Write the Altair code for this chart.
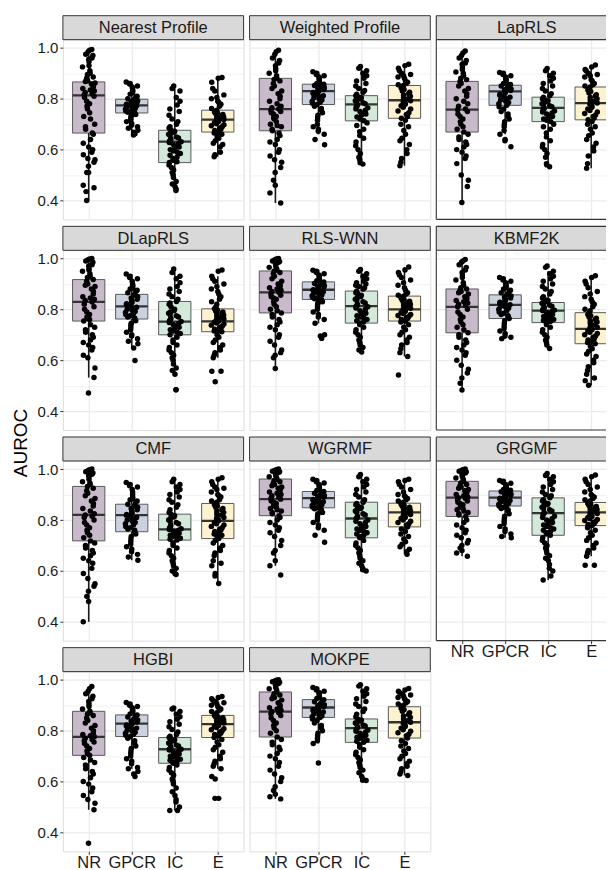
import altair as alt
import pandas as pd

METHODS = ["Nearest Profile", "Weighted Profile", "LapRLS", "DLapRLS", "RLS-WNN",
           "KBMF2K", "CMF", "WGRMF", "GRGMF", "HGBI", "MOKPE"]
CATS = ["NR", "GPCR", "IC", "E"]
FILLS = ["#c8b9cb", "#cbd2df", "#d3e9da", "#fdf3d0"]

# box statistics per method, ordered NR, GPCR, IC, E
Q1 = [[0.665, 0.744, 0.549, 0.669], [0.674, 0.777, 0.713, 0.723], [0.669, 0.774, 0.710, 0.717],
      [0.754, 0.762, 0.700, 0.712], [0.786, 0.839, 0.746, 0.754], [0.708, 0.764, 0.748, 0.665],
      [0.718, 0.754, 0.721, 0.727], [0.817, 0.848, 0.730, 0.773], [0.814, 0.855, 0.740, 0.778],
      [0.703, 0.777, 0.672, 0.773], [0.775, 0.852, 0.754, 0.771]]
MED = [[0.813, 0.774, 0.631, 0.718], [0.759, 0.830, 0.778, 0.794], [0.757, 0.829, 0.764, 0.783],
       [0.829, 0.812, 0.752, 0.753], [0.867, 0.877, 0.813, 0.800], [0.810, 0.818, 0.795, 0.723],
       [0.820, 0.819, 0.763, 0.797], [0.882, 0.886, 0.806, 0.830], [0.888, 0.888, 0.827, 0.830],
       [0.776, 0.828, 0.727, 0.826], [0.875, 0.891, 0.810, 0.833]]
Q3 = [[0.866, 0.798, 0.676, 0.755], [0.880, 0.857, 0.812, 0.852], [0.868, 0.853, 0.806, 0.846],
      [0.917, 0.859, 0.831, 0.802], [0.951, 0.908, 0.872, 0.852], [0.880, 0.857, 0.827, 0.787],
      [0.932, 0.862, 0.823, 0.865], [0.961, 0.912, 0.870, 0.866], [0.952, 0.914, 0.887, 0.869],
      [0.876, 0.862, 0.773, 0.860], [0.952, 0.922, 0.846, 0.894]]
WLO = [[0.400, 0.657, 0.439, 0.572], [0.390, 0.660, 0.545, 0.537], [0.392, 0.660, 0.540, 0.527],
       [0.532, 0.648, 0.545, 0.610], [0.568, 0.745, 0.632, 0.615], [0.483, 0.685, 0.646, 0.502],
       [0.400, 0.642, 0.586, 0.551], [0.620, 0.760, 0.600, 0.665], [0.658, 0.730, 0.564, 0.658],
       [0.489, 0.650, 0.486, 0.650], [0.532, 0.750, 0.610, 0.624]]
WHI = [[0.993, 0.866, 0.850, 0.883], [0.990, 0.906, 0.927, 0.935], [0.987, 0.903, 0.919, 0.932],
       [1.000, 0.939, 0.959, 0.930], [1.000, 0.954, 0.957, 0.966], [0.996, 0.925, 0.950, 0.932],
       [1.000, 0.947, 0.960, 0.966], [1.000, 0.960, 0.979, 0.960], [1.000, 0.955, 0.983, 0.977],
       [0.974, 0.911, 0.889, 0.934], [1.000, 0.970, 0.980, 0.966]]

# individual AUROC values (jittered points)
NP_NR = [0.993,0.99,0.985,0.975,0.97,0.96,0.955,0.945,0.93,0.925,0.91,0.90,0.895,0.885,0.88,0.87,0.868,0.862,0.858,0.85,0.846,0.84,0.834,0.83,0.824,0.82,0.816,0.81,0.805,0.79,0.78,0.77,0.76,0.745,0.73,0.72,0.70,0.69,0.68,0.665,0.66,0.64,0.625,0.61,0.60,0.59,0.58,0.565,0.56,0.55,0.535,0.51,0.51,0.46,0.45,0.435,0.40]
NP_GPCR = [0.866,0.86,0.858,0.85,0.846,0.84,0.832,0.83,0.822,0.818,0.81,0.806,0.80,0.798,0.795,0.792,0.79,0.787,0.785,0.782,0.78,0.778,0.776,0.774,0.772,0.77,0.768,0.765,0.762,0.76,0.756,0.753,0.75,0.747,0.745,0.742,0.738,0.733,0.728,0.72,0.716,0.71,0.703,0.696,0.69,0.684,0.676,0.668,0.662,0.657]
NP_IC = [0.85,0.84,0.83,0.805,0.79,0.775,0.76,0.75,0.735,0.72,0.71,0.70,0.69,0.685,0.676,0.672,0.668,0.664,0.66,0.655,0.65,0.646,0.642,0.638,0.634,0.631,0.628,0.624,0.62,0.615,0.61,0.605,0.60,0.595,0.59,0.585,0.578,0.57,0.565,0.558,0.552,0.549,0.54,0.53,0.52,0.51,0.50,0.49,0.475,0.465,0.455,0.445,0.439]
NP_E = [0.883,0.88,0.865,0.84,0.83,0.815,0.805,0.80,0.79,0.785,0.778,0.77,0.762,0.755,0.752,0.748,0.745,0.742,0.738,0.735,0.732,0.728,0.725,0.722,0.72,0.718,0.715,0.712,0.71,0.706,0.702,0.698,0.694,0.69,0.685,0.68,0.675,0.669,0.665,0.66,0.652,0.645,0.635,0.625,0.62,0.61,0.59,0.58,0.572]

WP_NR = [0.99,0.985,0.975,0.96,0.95,0.94,0.93,0.92,0.91,0.90,0.89,0.88,0.876,0.87,0.86,0.85,0.84,0.83,0.82,0.81,0.80,0.79,0.78,0.77,0.765,0.76,0.755,0.75,0.745,0.74,0.73,0.725,0.72,0.71,0.70,0.695,0.69,0.68,0.674,0.665,0.655,0.64,0.63,0.62,0.60,0.59,0.575,0.56,0.55,0.53,0.51,0.48,0.46,0.43,0.39]
WP_GPCR = [0.906,0.90,0.895,0.89,0.885,0.88,0.875,0.87,0.865,0.86,0.857,0.855,0.852,0.85,0.846,0.843,0.84,0.836,0.833,0.83,0.827,0.824,0.82,0.816,0.812,0.808,0.804,0.80,0.795,0.79,0.786,0.782,0.777,0.77,0.762,0.755,0.745,0.735,0.725,0.715,0.70,0.69,0.68,0.672,0.66,0.64,0.619]
WP_IC = [0.927,0.92,0.91,0.90,0.89,0.88,0.87,0.86,0.85,0.84,0.832,0.825,0.818,0.812,0.808,0.804,0.80,0.796,0.792,0.788,0.784,0.78,0.776,0.772,0.768,0.764,0.76,0.755,0.75,0.745,0.74,0.735,0.728,0.72,0.713,0.705,0.695,0.68,0.67,0.655,0.645,0.63,0.615,0.60,0.585,0.57,0.56,0.548,0.543]
WP_E = [0.935,0.93,0.92,0.91,0.90,0.895,0.89,0.885,0.88,0.87,0.865,0.86,0.855,0.852,0.848,0.842,0.836,0.83,0.825,0.82,0.815,0.81,0.805,0.80,0.796,0.792,0.788,0.784,0.778,0.772,0.766,0.76,0.752,0.745,0.738,0.73,0.723,0.715,0.70,0.69,0.675,0.66,0.645,0.635,0.62,0.60,0.585,0.565,0.55,0.537]

LR_NR = [0.987,0.98,0.97,0.96,0.95,0.94,0.935,0.925,0.915,0.905,0.90,0.89,0.88,0.875,0.868,0.86,0.85,0.84,0.83,0.82,0.81,0.80,0.79,0.78,0.77,0.76,0.757,0.75,0.74,0.73,0.72,0.71,0.70,0.69,0.68,0.669,0.66,0.65,0.64,0.63,0.62,0.61,0.60,0.59,0.575,0.565,0.545,0.50,0.48,0.455,0.392]
LR_GPCR = [0.903,0.90,0.895,0.89,0.885,0.88,0.875,0.87,0.865,0.86,0.856,0.853,0.85,0.846,0.842,0.838,0.835,0.832,0.829,0.826,0.822,0.818,0.814,0.81,0.806,0.80,0.795,0.79,0.785,0.78,0.774,0.768,0.76,0.75,0.74,0.73,0.72,0.71,0.70,0.69,0.675,0.66,0.64,0.635,0.611]
LR_IC = [0.919,0.91,0.90,0.89,0.88,0.87,0.86,0.85,0.84,0.83,0.82,0.812,0.806,0.80,0.796,0.792,0.788,0.784,0.78,0.776,0.772,0.768,0.764,0.76,0.756,0.752,0.748,0.744,0.74,0.735,0.73,0.725,0.72,0.715,0.71,0.70,0.69,0.68,0.665,0.65,0.635,0.62,0.61,0.60,0.585,0.57,0.545,0.54,0.533]
LR_E = [0.932,0.925,0.915,0.91,0.90,0.895,0.89,0.885,0.875,0.87,0.86,0.855,0.85,0.846,0.84,0.834,0.828,0.822,0.816,0.81,0.805,0.80,0.795,0.79,0.786,0.783,0.778,0.772,0.766,0.76,0.754,0.748,0.742,0.736,0.73,0.724,0.717,0.71,0.70,0.69,0.68,0.665,0.655,0.64,0.625,0.61,0.595,0.575,0.545,0.527]

DL_NR = [1.0,0.998,0.995,0.99,0.985,0.975,0.97,0.96,0.955,0.95,0.94,0.93,0.925,0.917,0.91,0.90,0.895,0.89,0.88,0.87,0.86,0.85,0.845,0.84,0.835,0.829,0.82,0.81,0.80,0.79,0.78,0.77,0.765,0.76,0.754,0.74,0.73,0.72,0.71,0.70,0.69,0.68,0.67,0.66,0.65,0.64,0.62,0.61,0.57,0.532,0.471]
DL_GPCR = [0.939,0.93,0.925,0.92,0.91,0.90,0.895,0.89,0.885,0.88,0.875,0.87,0.865,0.859,0.855,0.85,0.845,0.84,0.835,0.83,0.826,0.822,0.818,0.812,0.808,0.804,0.80,0.796,0.792,0.788,0.784,0.78,0.775,0.77,0.766,0.762,0.755,0.745,0.74,0.73,0.72,0.71,0.70,0.695,0.685,0.675,0.665,0.648,0.599]
DL_IC = [0.959,0.945,0.93,0.92,0.905,0.89,0.88,0.87,0.86,0.85,0.84,0.831,0.825,0.82,0.81,0.80,0.795,0.79,0.785,0.78,0.775,0.77,0.765,0.76,0.755,0.752,0.748,0.744,0.74,0.735,0.73,0.725,0.72,0.715,0.71,0.705,0.70,0.69,0.68,0.67,0.66,0.65,0.64,0.63,0.62,0.61,0.60,0.585,0.57,0.56,0.545,0.484,0.484]
DL_E = [0.955,0.95,0.93,0.92,0.91,0.90,0.89,0.88,0.87,0.86,0.85,0.84,0.83,0.82,0.81,0.802,0.798,0.794,0.79,0.786,0.782,0.778,0.774,0.77,0.766,0.762,0.758,0.755,0.753,0.75,0.746,0.742,0.738,0.734,0.73,0.726,0.722,0.718,0.715,0.712,0.70,0.69,0.68,0.67,0.66,0.65,0.64,0.63,0.62,0.61,0.557,0.557,0.516]

RW_NR = [1.0,0.998,0.995,0.99,0.988,0.985,0.98,0.975,0.97,0.965,0.96,0.955,0.951,0.945,0.94,0.93,0.92,0.91,0.90,0.895,0.89,0.885,0.88,0.875,0.87,0.867,0.86,0.855,0.85,0.845,0.84,0.83,0.82,0.81,0.80,0.795,0.786,0.78,0.77,0.76,0.75,0.74,0.73,0.72,0.70,0.69,0.675,0.66,0.64,0.63,0.62,0.61,0.568]
RW_GPCR = [0.954,0.95,0.945,0.94,0.935,0.93,0.925,0.92,0.915,0.912,0.908,0.905,0.902,0.90,0.897,0.894,0.891,0.888,0.885,0.882,0.879,0.877,0.875,0.872,0.869,0.866,0.863,0.86,0.857,0.854,0.851,0.848,0.845,0.842,0.839,0.835,0.83,0.825,0.82,0.81,0.80,0.79,0.78,0.77,0.76,0.745,0.70,0.695,0.686]
RW_IC = [0.957,0.95,0.94,0.93,0.92,0.91,0.905,0.90,0.895,0.89,0.885,0.88,0.872,0.865,0.86,0.855,0.85,0.845,0.84,0.835,0.83,0.825,0.82,0.815,0.813,0.81,0.805,0.80,0.795,0.79,0.785,0.78,0.775,0.77,0.765,0.76,0.755,0.75,0.746,0.74,0.73,0.72,0.71,0.70,0.69,0.68,0.67,0.66,0.65,0.64,0.632]
RW_E = [0.966,0.955,0.945,0.935,0.925,0.915,0.905,0.895,0.885,0.875,0.865,0.86,0.855,0.852,0.848,0.844,0.84,0.836,0.832,0.828,0.824,0.82,0.816,0.812,0.808,0.804,0.80,0.796,0.792,0.788,0.784,0.78,0.776,0.772,0.768,0.764,0.76,0.754,0.75,0.74,0.73,0.72,0.71,0.70,0.69,0.68,0.67,0.66,0.645,0.63,0.615,0.542]

KB_NR = [0.996,0.99,0.985,0.975,0.965,0.955,0.945,0.935,0.925,0.915,0.905,0.895,0.885,0.88,0.875,0.87,0.865,0.86,0.85,0.845,0.84,0.835,0.83,0.825,0.82,0.815,0.81,0.80,0.79,0.78,0.77,0.76,0.75,0.74,0.73,0.72,0.708,0.70,0.69,0.68,0.67,0.66,0.65,0.64,0.63,0.62,0.60,0.58,0.565,0.55,0.53,0.51,0.483]
KB_GPCR = [0.925,0.92,0.915,0.91,0.905,0.90,0.895,0.89,0.885,0.88,0.875,0.87,0.865,0.86,0.857,0.853,0.849,0.845,0.84,0.836,0.832,0.828,0.824,0.82,0.818,0.815,0.812,0.808,0.804,0.80,0.795,0.79,0.785,0.78,0.775,0.77,0.764,0.755,0.745,0.735,0.725,0.715,0.705,0.695,0.69,0.685]
KB_IC = [0.970,0.965,0.95,0.94,0.93,0.92,0.91,0.90,0.89,0.88,0.87,0.86,0.85,0.845,0.84,0.835,0.83,0.827,0.824,0.82,0.816,0.812,0.808,0.804,0.80,0.797,0.795,0.792,0.788,0.784,0.78,0.776,0.772,0.768,0.764,0.76,0.756,0.752,0.748,0.74,0.73,0.72,0.71,0.70,0.69,0.68,0.67,0.66,0.646]
KB_E = [0.932,0.925,0.91,0.90,0.885,0.87,0.86,0.85,0.84,0.83,0.82,0.81,0.80,0.795,0.787,0.78,0.775,0.77,0.765,0.76,0.755,0.75,0.745,0.74,0.735,0.73,0.727,0.723,0.72,0.715,0.71,0.705,0.70,0.695,0.69,0.685,0.68,0.675,0.67,0.665,0.655,0.645,0.635,0.625,0.615,0.60,0.59,0.575,0.56,0.545,0.53,0.52,0.502]

CM_NR = [1.0,0.998,0.995,0.99,0.985,0.98,0.975,0.97,0.96,0.95,0.945,0.94,0.932,0.925,0.915,0.905,0.895,0.885,0.875,0.865,0.855,0.845,0.835,0.825,0.82,0.815,0.81,0.80,0.79,0.78,0.77,0.76,0.75,0.74,0.73,0.718,0.71,0.70,0.69,0.68,0.67,0.66,0.65,0.64,0.63,0.61,0.59,0.57,0.55,0.54,0.52,0.50,0.48,0.40]
CM_GPCR = [0.947,0.94,0.935,0.93,0.92,0.91,0.90,0.89,0.885,0.88,0.875,0.87,0.862,0.858,0.854,0.85,0.845,0.84,0.835,0.83,0.826,0.822,0.819,0.815,0.81,0.805,0.80,0.795,0.79,0.785,0.78,0.775,0.77,0.765,0.76,0.754,0.745,0.735,0.725,0.715,0.705,0.695,0.685,0.675,0.665,0.655,0.642]
CM_IC = [0.96,0.95,0.94,0.93,0.92,0.91,0.90,0.89,0.88,0.87,0.86,0.85,0.84,0.83,0.823,0.818,0.812,0.806,0.80,0.795,0.79,0.785,0.78,0.775,0.77,0.766,0.763,0.76,0.756,0.752,0.748,0.744,0.74,0.736,0.732,0.728,0.724,0.721,0.71,0.70,0.69,0.68,0.67,0.66,0.65,0.64,0.63,0.62,0.61,0.60,0.59,0.586]
CM_E = [0.966,0.96,0.95,0.94,0.93,0.925,0.92,0.91,0.90,0.895,0.89,0.88,0.875,0.87,0.865,0.86,0.855,0.85,0.845,0.84,0.835,0.83,0.825,0.82,0.815,0.81,0.805,0.80,0.797,0.79,0.785,0.78,0.775,0.77,0.765,0.76,0.755,0.75,0.745,0.74,0.735,0.727,0.72,0.71,0.70,0.69,0.68,0.67,0.66,0.64,0.63,0.62,0.59,0.58,0.551]

WG_NR = [1.0,0.998,0.995,0.992,0.99,0.987,0.984,0.98,0.975,0.97,0.965,0.961,0.955,0.95,0.945,0.94,0.935,0.93,0.925,0.92,0.915,0.91,0.905,0.90,0.895,0.89,0.885,0.882,0.875,0.87,0.865,0.86,0.855,0.85,0.845,0.84,0.835,0.83,0.825,0.817,0.81,0.80,0.79,0.78,0.77,0.76,0.75,0.735,0.72,0.70,0.68,0.67,0.64,0.62,0.584]
WG_GPCR = [0.96,0.955,0.95,0.945,0.94,0.935,0.93,0.925,0.92,0.916,0.912,0.908,0.905,0.902,0.899,0.896,0.893,0.89,0.888,0.886,0.884,0.881,0.878,0.875,0.872,0.869,0.866,0.863,0.86,0.857,0.854,0.851,0.848,0.844,0.84,0.835,0.83,0.825,0.82,0.81,0.80,0.79,0.78,0.77,0.76,0.74,0.713]
WG_IC = [0.979,0.97,0.96,0.95,0.94,0.93,0.92,0.91,0.90,0.89,0.88,0.87,0.865,0.86,0.855,0.85,0.845,0.84,0.835,0.83,0.825,0.82,0.815,0.81,0.806,0.80,0.795,0.79,0.785,0.78,0.775,0.77,0.765,0.76,0.755,0.75,0.745,0.74,0.735,0.73,0.72,0.71,0.70,0.69,0.68,0.67,0.66,0.65,0.64,0.63,0.62,0.61,0.605,0.60]
WG_E = [0.96,0.955,0.95,0.94,0.93,0.92,0.91,0.90,0.895,0.89,0.885,0.88,0.875,0.87,0.866,0.862,0.858,0.854,0.85,0.846,0.842,0.838,0.834,0.83,0.826,0.822,0.818,0.814,0.81,0.806,0.80,0.795,0.79,0.785,0.78,0.773,0.765,0.755,0.745,0.735,0.725,0.715,0.705,0.695,0.685,0.675,0.665]

GR_NR = [1.0,0.998,0.995,0.992,0.99,0.985,0.98,0.975,0.97,0.965,0.96,0.952,0.945,0.94,0.935,0.93,0.925,0.92,0.915,0.91,0.905,0.90,0.895,0.89,0.888,0.885,0.88,0.875,0.87,0.865,0.86,0.855,0.85,0.845,0.84,0.835,0.83,0.825,0.82,0.814,0.80,0.79,0.78,0.77,0.76,0.75,0.74,0.73,0.72,0.71,0.70,0.69,0.68,0.67,0.658]
GR_GPCR = [0.955,0.952,0.948,0.944,0.94,0.936,0.932,0.928,0.924,0.92,0.917,0.914,0.911,0.908,0.905,0.902,0.899,0.896,0.893,0.89,0.888,0.886,0.883,0.88,0.877,0.874,0.871,0.868,0.865,0.862,0.858,0.855,0.85,0.845,0.84,0.835,0.825,0.815,0.805,0.795,0.785,0.775,0.765,0.755,0.745,0.735,0.73]
GR_IC = [0.983,0.975,0.97,0.96,0.95,0.94,0.93,0.92,0.91,0.90,0.895,0.887,0.88,0.875,0.87,0.865,0.86,0.855,0.85,0.845,0.84,0.835,0.83,0.827,0.82,0.815,0.81,0.805,0.80,0.795,0.79,0.785,0.78,0.775,0.77,0.765,0.76,0.755,0.75,0.745,0.74,0.73,0.72,0.71,0.70,0.69,0.68,0.67,0.66,0.65,0.64,0.625,0.61,0.60,0.58,0.564]
GR_E = [0.977,0.97,0.96,0.95,0.94,0.93,0.92,0.91,0.90,0.895,0.89,0.885,0.88,0.875,0.869,0.865,0.861,0.857,0.853,0.849,0.845,0.841,0.837,0.834,0.83,0.826,0.822,0.818,0.814,0.81,0.806,0.802,0.798,0.794,0.79,0.786,0.782,0.778,0.77,0.76,0.75,0.74,0.73,0.72,0.71,0.70,0.69,0.68,0.67,0.658,0.622,0.622]

HG_NR = [0.974,0.965,0.955,0.945,0.935,0.925,0.915,0.905,0.895,0.885,0.876,0.87,0.865,0.86,0.85,0.84,0.83,0.82,0.81,0.80,0.79,0.785,0.78,0.776,0.77,0.765,0.76,0.755,0.75,0.74,0.73,0.72,0.71,0.703,0.695,0.685,0.675,0.665,0.65,0.64,0.63,0.615,0.60,0.59,0.575,0.56,0.545,0.53,0.515,0.489,0.358]
HG_GPCR = [0.911,0.905,0.90,0.895,0.89,0.885,0.88,0.875,0.87,0.866,0.862,0.858,0.854,0.85,0.846,0.842,0.838,0.834,0.83,0.828,0.825,0.822,0.818,0.814,0.81,0.806,0.802,0.798,0.794,0.79,0.786,0.782,0.777,0.77,0.76,0.75,0.74,0.73,0.72,0.71,0.70,0.69,0.68,0.67,0.655,0.65,0.64,0.63,0.62]
HG_IC = [0.889,0.885,0.875,0.865,0.855,0.845,0.835,0.825,0.815,0.805,0.795,0.785,0.778,0.773,0.768,0.764,0.76,0.756,0.752,0.748,0.744,0.74,0.736,0.732,0.728,0.727,0.724,0.72,0.716,0.712,0.708,0.704,0.70,0.696,0.692,0.688,0.684,0.68,0.676,0.672,0.665,0.655,0.645,0.635,0.625,0.61,0.60,0.59,0.575,0.56,0.545,0.53,0.52,0.50,0.486,0.486]
HG_E = [0.934,0.93,0.925,0.92,0.915,0.91,0.905,0.90,0.895,0.89,0.885,0.88,0.875,0.87,0.865,0.86,0.857,0.854,0.851,0.848,0.845,0.842,0.839,0.836,0.833,0.83,0.826,0.823,0.82,0.816,0.812,0.808,0.804,0.80,0.795,0.79,0.785,0.78,0.773,0.765,0.755,0.745,0.735,0.725,0.715,0.70,0.69,0.68,0.67,0.66,0.65,0.62,0.61,0.534,0.534]

MO_NR = [1.0,0.998,0.995,0.992,0.99,0.985,0.98,0.975,0.97,0.965,0.96,0.952,0.945,0.94,0.935,0.93,0.925,0.92,0.91,0.90,0.895,0.89,0.885,0.88,0.875,0.87,0.865,0.86,0.85,0.84,0.83,0.82,0.81,0.80,0.79,0.775,0.765,0.755,0.745,0.735,0.725,0.71,0.70,0.69,0.675,0.66,0.645,0.63,0.615,0.60,0.58,0.565,0.55,0.54,0.532]
MO_GPCR = [0.97,0.965,0.96,0.955,0.95,0.945,0.94,0.935,0.93,0.926,0.922,0.918,0.914,0.91,0.906,0.902,0.898,0.894,0.891,0.888,0.885,0.882,0.879,0.876,0.873,0.87,0.866,0.862,0.858,0.855,0.852,0.846,0.84,0.83,0.82,0.81,0.80,0.79,0.78,0.77,0.76,0.75,0.673]
MO_IC = [0.98,0.975,0.965,0.955,0.945,0.935,0.925,0.915,0.905,0.895,0.885,0.875,0.865,0.855,0.846,0.842,0.838,0.834,0.83,0.826,0.822,0.818,0.814,0.81,0.806,0.802,0.798,0.794,0.79,0.786,0.782,0.778,0.774,0.77,0.766,0.762,0.758,0.754,0.745,0.735,0.725,0.715,0.705,0.695,0.685,0.675,0.665,0.655,0.645,0.635,0.62,0.61,0.605,0.604]
MO_E = [0.966,0.96,0.955,0.95,0.945,0.94,0.935,0.93,0.925,0.92,0.915,0.91,0.905,0.90,0.894,0.888,0.882,0.876,0.87,0.864,0.858,0.852,0.846,0.84,0.836,0.833,0.828,0.822,0.816,0.81,0.804,0.798,0.792,0.786,0.78,0.771,0.76,0.75,0.74,0.73,0.72,0.71,0.70,0.69,0.68,0.67,0.66,0.65,0.64,0.63,0.624]

POINTS = [
    [NP_NR, NP_GPCR, NP_IC, NP_E], [WP_NR, WP_GPCR, WP_IC, WP_E], [LR_NR, LR_GPCR, LR_IC, LR_E],
    [DL_NR, DL_GPCR, DL_IC, DL_E], [RW_NR, RW_GPCR, RW_IC, RW_E], [KB_NR, KB_GPCR, KB_IC, KB_E],
    [CM_NR, CM_GPCR, CM_IC, CM_E], [WG_NR, WG_GPCR, WG_IC, WG_E], [GR_NR, GR_GPCR, GR_IC, GR_E],
    [HG_NR, HG_GPCR, HG_IC, HG_E], [MO_NR, MO_GPCR, MO_IC, MO_E],
]

# ---- build tables ----
pt_rows, st_rows = [], []
for mi, m in enumerate(METHODS):
    for ci, c in enumerate(CATS):
        for v in POINTS[mi][ci]:
            pt_rows.append({"method": m, "cat": c, "pos": ci + 1, "auroc": v})
        st_rows.append({"method": m, "cat": c, "pos": ci + 1,
                        "wlo": WLO[mi][ci], "q1": Q1[mi][ci], "med": MED[mi][ci],
                        "q3": Q3[mi][ci], "whi": WHI[mi][ci]})
pts_df = pd.DataFrame(pt_rows)
st_df = pd.DataFrame(st_rows)

W, H = 181, 180          # full panel plot size
W_CUT = 170              # right-hand column is cut off by the page edge
STRIP = 24
FONT = "Liberation Sans"
YDOM = [0.326, 1.032]
GRID = "#ebebeb"
BORDER = "#333333"
MAJOR = "round(datum.value*10) % 2 == 0"
cat_expr = "[" + ",".join("'%s'" % c for c in CATS) + "][datum.value - 1]"


def x_enc(field, show, xdom):
    return alt.X(field, type="quantitative", title=None,
                 scale=alt.Scale(domain=xdom, nice=False, zero=False),
                 axis=alt.Axis(values=[1, 2, 3, 4], labelExpr=cat_expr, labels=show, ticks=show,
                               tickSize=3, tickColor=BORDER, domain=False, grid=True,
                               gridColor=GRID, gridWidth=1.3, labelFont=FONT, labelFontSize=16.5,
                               labelColor="#1a1a1a", labelPadding=0, labelFlush=False))


def y_enc(field, show):
    return alt.Y(field, type="quantitative", title=None,
                 scale=alt.Scale(domain=YDOM, nice=False, zero=False),
                 axis=alt.Axis(values=[0.4, 0.5, 0.6, 0.7, 0.8, 0.9, 1.0],
                               labelExpr=MAJOR + " ? format(datum.value, '.1f') : ''",
                               labels=show, ticks=show,
                               tickSize={"condition": {"test": MAJOR, "value": 3}, "value": 0},
                               tickColor=BORDER, domain=False, grid=True, gridColor=GRID,
                               gridWidth={"condition": {"test": MAJOR, "value": 1.3}, "value": 0.7},
                               labelFont=FONT, labelFontSize=15, labelColor="#1a1a1a",
                               labelPadding=2, labelFlush=False))


def panel(k, m):
    show_x = k >= 8
    show_y = (k % 3) == 0
    cut = (k % 3) == 2
    w = W_CUT if cut else W
    xdom = [0.4, 0.4 + 4.2 * w / W]
    flt = alt.datum.method == m

    st = alt.Chart(st_df).transform_filter(flt).transform_calculate(
        x0="datum.pos - 0.375", x1="datum.pos + 0.375")

    boxes = st.mark_rect(stroke="#595959", strokeWidth=1, clip=True).encode(
        x=x_enc("x0", show_x, xdom), x2="x1", y=y_enc("q1", show_y), y2="q3",
        fill=alt.Fill("cat:N", scale=alt.Scale(domain=CATS, range=FILLS), legend=None))
    wh_hi = st.mark_rule(color="#1a1a1a", strokeWidth=1.6).encode(
        x=x_enc("pos", show_x, xdom), y=y_enc("q3", show_y), y2="whi")
    wh_lo = st.mark_rule(color="#1a1a1a", strokeWidth=1.6).encode(
        x=x_enc("pos", show_x, xdom), y=y_enc("wlo", show_y), y2="q1")
    meds = st.mark_rule(color=BORDER, strokeWidth=2.3, clip=True).encode(
        x=x_enc("x0", show_x, xdom), x2="x1", y=y_enc("med", show_y))

    pts = alt.Chart(pts_df).transform_filter(flt).transform_window(
        rn="row_number()", groupby=["cat"]
    ).transform_calculate(
        h="sin(datum.rn * 12.9898 + datum.pos * 78.233) * 43758.5453"
    ).transform_calculate(
        xj="datum.pos + (datum.h - floor(datum.h) - 0.5) * 0.3"
    ).mark_circle(color="black", opacity=1, size=30, clip=True).encode(
        x=x_enc("xj", show_x, xdom), y=y_enc("auroc", show_y))

    lab = alt.Chart(alt.Data(values=[{"t": m}]))
    strip_t = lab.mark_text(font=FONT, fontSize=16.5, color="#1a1a1a", baseline="middle",
                            align="center").encode(
        text="t:N", x=alt.value(W / 2), y=alt.value(-STRIP / 2 + 0.5))

    if not cut:
        strip = lab.mark_rect(fill="#d9d9d9", stroke=BORDER, strokeWidth=1).encode(
            x=alt.value(0), x2=alt.value(w), y=alt.value(-STRIP), y2=alt.value(0))
        layers = [boxes, wh_hi, wh_lo, meds, pts, strip, strip_t]
        return alt.layer(*layers).properties(width=w, height=H)

    # cut panel: draw the frame without a right-hand edge
    strip = lab.mark_rect(fill="#d9d9d9").encode(
        x=alt.value(0), x2=alt.value(w), y=alt.value(-STRIP), y2=alt.value(0))
    edge = dict(color=BORDER, strokeWidth=1.1)
    top = lab.mark_rule(**edge).encode(x=alt.value(0), x2=alt.value(w), y=alt.value(-STRIP))
    mid = lab.mark_rule(**edge).encode(x=alt.value(0), x2=alt.value(w), y=alt.value(0))
    bot = lab.mark_rule(**edge).encode(x=alt.value(0), x2=alt.value(w), y=alt.value(H))
    left = lab.mark_rule(**edge).encode(x=alt.value(0), y=alt.value(-STRIP), y2=alt.value(H))
    layers = [boxes, wh_hi, wh_lo, meds, pts, strip, strip_t, top, mid, bot, left]
    return alt.layer(*layers).properties(
        width=w, height=H, view=alt.ViewBackground(stroke="transparent"))


panels = [panel(k, m) for k, m in enumerate(METHODS)]

chart = alt.concat(*panels, columns=3, spacing={"row": 31, "column": 6}, bounds="flush").properties(
    title=alt.TitleParams("AUROC", orient="left", anchor="middle", fontSize=19, font=FONT,
                          fontWeight="normal", color="black", offset=6),
    padding={"left": 11, "top": 13, "right": 0, "bottom": 0},
).configure_view(stroke=BORDER, strokeWidth=1.1).configure(background="white")

chart.save("out.html", embed_options={"renderer": "svg", "actions": False})
